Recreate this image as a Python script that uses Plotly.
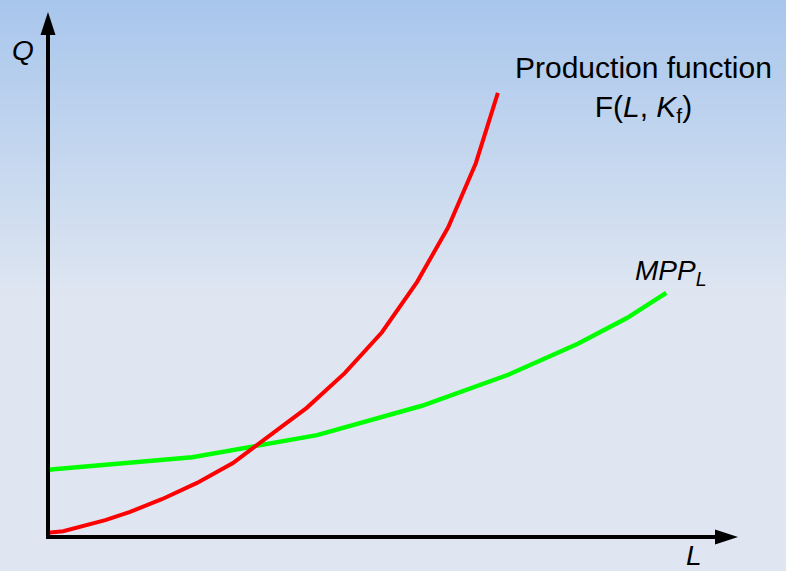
import plotly.graph_objects as go

# Data (units of L and Q)
prod_L = [0.0, 0.22, 0.83, 1.19, 1.65, 2.16, 2.68, 3.07, 3.75, 4.30, 4.84, 5.35, 5.80, 6.20, 6.52]
prod_Q = [0.08, 0.11, 0.32, 0.48, 0.72, 1.03, 1.41, 1.79, 2.46, 3.12, 3.90, 4.86, 5.90, 7.12, 8.46]
mpp_L = [0.0, 2.09, 3.90, 5.42, 6.67, 7.68, 8.39, 8.96]
mpp_Q = [1.28, 1.52, 1.94, 2.50, 3.09, 3.68, 4.17, 4.65]

W, H = 786, 571
X0, Y0 = 48, 537          # pixel position of origin
SX, SY = 69.0, 52.5       # pixels per unit

def dx(px):
    return (px - X0) / SX

def dy(py):
    return (Y0 - py) / SY

fig = go.Figure()

fig.add_trace(go.Scatter(x=mpp_L, y=mpp_Q, mode="lines",
                         line=dict(color="#00ff00", width=4.5), hoverinfo="skip"))
fig.add_trace(go.Scatter(x=prod_L, y=prod_Q, mode="lines",
                         line=dict(color="#ff0000", width=4), hoverinfo="skip"))

shapes = []
# gradient background
top = (168, 198, 236)
bot = (223, 230, 241)
grad_end = 300
nb = 60
for i in range(nb):
    y0p = grad_end * i / nb
    y1p = grad_end * (i + 1) / nb
    t = (i + 0.5) / nb
    c = tuple(int(round(top[k] + (bot[k] - top[k]) * t)) for k in range(3))
    shapes.append(dict(type="rect", xref="paper", yref="paper", x0=0, x1=1,
                       y0=1 - y1p / H, y1=1 - y0p / H + 0.0005,
                       fillcolor="rgb(%d,%d,%d)" % c, line=dict(width=0), layer="below"))
shapes.append(dict(type="rect", xref="paper", yref="paper", x0=0, x1=1,
                   y0=0, y1=1 - grad_end / H + 0.0005,
                   fillcolor="rgb(%d,%d,%d)" % bot, line=dict(width=0), layer="below"))

# axes
shapes.append(dict(type="line", x0=dx(48), x1=dx(48), y0=dy(539), y1=dy(30),
                   line=dict(color="black", width=4)))
shapes.append(dict(type="line", x0=dx(46), x1=dx(720), y0=dy(537), y1=dy(537),
                   line=dict(color="black", width=4)))
# arrow heads
shapes.append(dict(type="path",
                   path="M %f,%f L %f,%f L %f,%f Z" % (dx(48), dy(12), dx(40.5), dy(35), dx(55.5), dy(35)),
                   fillcolor="black", line=dict(width=0)))
shapes.append(dict(type="path",
                   path="M %f,%f L %f,%f L %f,%f Z" % (dx(738), dy(537), dx(715), dy(529.5), dx(715), dy(544.5)),
                   fillcolor="black", line=dict(width=0)))

fnt = "Liberation Sans, Arial, sans-serif"
ann = [
    dict(x=dx(23), y=dy(50), text="<i>Q</i>", size=28),
    dict(x=dx(694), y=dy(555), text="<i>L</i>", size=28),
    dict(x=dx(643), y=dy(89), text="Production function<br>F(<i>L</i>, <i>K</i><sub>f</sub>)", size=30),
    dict(x=dx(633), y=dy(272), text="<i>MPP</i><sub><i>L</i></sub>", size=28, xanchor="left"),
]
annotations = []
for a in ann:
    d = dict(xref="x", yref="y", showarrow=False, xanchor="center", yanchor="middle", align="center")
    size = a.pop("size")
    d.update(a)
    d["font"] = dict(family=fnt, color="black", size=size)
    annotations.append(d)

fig.update_layout(
    width=W, height=H,
    margin=dict(l=0, r=0, t=0, b=0),
    paper_bgcolor="rgb(223,230,241)",
    plot_bgcolor="rgba(0,0,0,0)",
    showlegend=False,
    shapes=shapes,
    annotations=annotations,
    xaxis=dict(range=[dx(0), dx(W)], visible=False, fixedrange=True),
    yaxis=dict(range=[dy(H), dy(0)], visible=False, fixedrange=True),
)

fig.write_html("out.html", config={"displayModeBar": False},
               post_script="document.body.style.margin='0';document.body.style.padding='0';document.body.style.overflow='hidden';")
